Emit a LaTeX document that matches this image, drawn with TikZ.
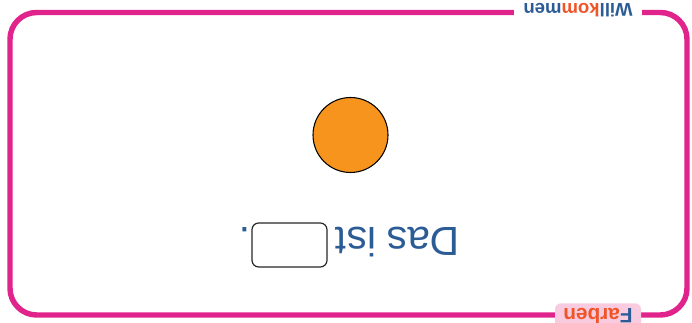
\documentclass[tikz,border=0pt]{standalone}
\usepackage{fontspec}
\setmainfont{Liberation Sans}
\definecolor{rahmen}{RGB}{225,35,140}
\definecolor{tabrosa}{RGB}{249,203,224}
\definecolor{blau}{RGB}{44,92,150}
\definecolor{rot}{RGB}{240,85,40}
\definecolor{sonne}{RGB}{247,148,29}
\begin{document}
\begin{tikzpicture}[x=0.75pt,y=-0.75pt,
  kopf/.style={rotate=180,font=\bfseries\fontsize{13.9}{16}\selectfont,fill=white,inner xsep=7pt,inner ysep=1pt},
  reiter/.style={rotate=180,font=\bfseries\fontsize{15.6}{18}\selectfont,fill=tabrosa,rounded corners=4.5pt,
    minimum width=64.5pt,inner ysep=3.6pt,text depth=0pt},
  satz/.style={rotate=180,text=blau,font=\fontsize{30.5}{36}\selectfont,inner sep=0pt},
  luecke/.style={rotate=180,draw=black!85,line width=0.9pt,rounded corners=5pt,minimum width=56.25pt,minimum height=33pt},
  kreis/.style={circle,draw=black,line width=0.8pt,fill=sonne,minimum size=56.25pt,inner sep=0pt}]
\useasboundingbox (0,0) rectangle (692,323);
\clip (0,0) rectangle (692,323);
\draw[rahmen,line width=4.1pt,rounded corners=20pt] (10,12.5) rectangle (687,315);
\node[kopf] (willkommen) at (578,10) {\textcolor{blau}{Will}\textcolor{rot}{kom}\textcolor{blau}{men}};
\node[reiter,anchor=south] (farben) at (598,303) {\textcolor{blau}{F}\textcolor{rot}{arben}};
\node[kreis] (ball) at (350.5,135) {};
\node[satz] (dasist) at (397.5,242.5) {Das ist};
\node[luecke] (feld) at (289.5,245) {};
\node[satz] (punkt) at (245,230) {.};
\end{tikzpicture}
\end{document}
